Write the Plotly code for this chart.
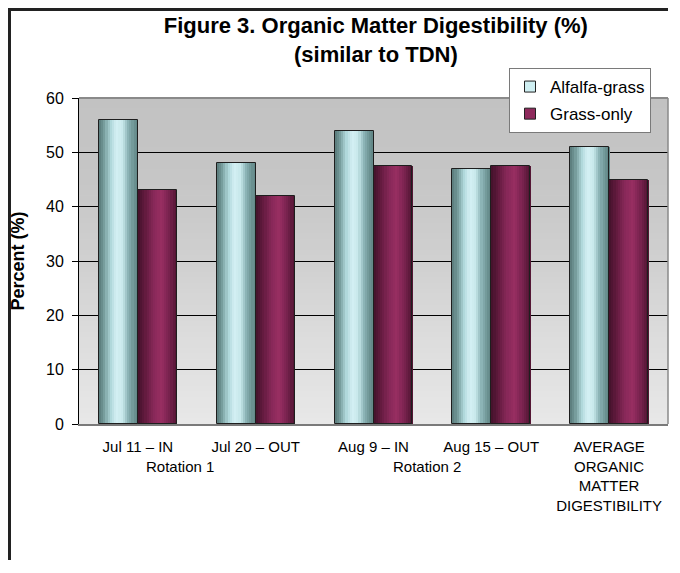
import plotly.graph_objects as go

# ---- data ----
categories = ["Jul 11 – IN", "Jul 20 – OUT", "Aug 9 – IN", "Aug 15 – OUT",
              "AVERAGE<br>ORGANIC<br>MATTER<br>DIGESTIBILITY"]
alfalfa_grass = [56, 48, 54, 47, 51]
grass_only = [43, 42, 47.5, 47.5, 45]
series_names = ["Alfalfa-grass", "Grass-only"]
group_labels = ["Rotation 1", "Rotation 2"]
y_ticks = [0, 10, 20, 30, 40, 50, 60]

# ---- style ----
FONT = "Liberation Sans, Arial, sans-serif"
W, H = 664, 552
ML, MR, MT, MB = 71, 4, 90, 136
PW, PH = W - ML - MR, H - MT - MB
BAR_W = 0.331  # fraction of category width per bar
N_STRIPS = 18

alf_stops = [(0.0, (88, 122, 122)), (0.12, (112, 150, 150)), (0.3, (175, 215, 218)),
             (0.45, (212, 240, 244)), (0.6, (200, 232, 235)), (0.75, (140, 180, 182)),
             (0.9, (108, 146, 146)), (1.0, (96, 132, 132))]
grs_stops = [(0.0, (66, 18, 42)), (0.15, (92, 24, 58)), (0.4, (135, 40, 88)),
             (0.6, (152, 46, 98)), (0.8, (120, 34, 78)), (1.0, (78, 20, 48))]
legend_colors = ["#cfeff2", "#8e2a5c"]


def interp(stops, t):
    for (t0, c0), (t1, c1) in zip(stops[:-1], stops[1:]):
        if t0 <= t <= t1:
            f = (t - t0) / (t1 - t0) if t1 > t0 else 0
            c = [round(a + (b - a) * f) for a, b in zip(c0, c1)]
            return f"rgb({c[0]},{c[1]},{c[2]})"
    c = stops[-1][1]
    return f"rgb({c[0]},{c[1]},{c[2]})"


def px_x(svg_x):
    return (svg_x - ML) / PW


def px_y(svg_y):
    return (H - MB - svg_y) / PH


fig = go.Figure()

for values, stops, base_off in [(alfalfa_grass, alf_stops, -BAR_W),
                                (grass_only, grs_stops, 0.0)]:
    sw = BAR_W / N_STRIPS
    for i in range(N_STRIPS):
        t = (i + 0.5) / N_STRIPS
        fig.add_trace(go.Bar(
            x=categories, y=values, width=sw * 1.2, offset=base_off + i * sw,
            marker=dict(color=interp(stops, t), line=dict(width=0)),
            showlegend=False, hoverinfo="skip"))
    fig.add_trace(go.Bar(
        x=categories, y=values, width=BAR_W, offset=base_off,
        marker=dict(color="rgba(0,0,0,0)", line=dict(color="#1e1e1e", width=1)),
        showlegend=False, hoverinfo="y"))

for name, col in zip(series_names, legend_colors):
    fig.add_trace(go.Scatter(
        x=[None], y=[None], mode="markers", name=name, legendgroup=name,
        marker=dict(symbol="square", size=11, color=col,
                    line=dict(color="#222222", width=1))))

# background gradient bands inside plot area
bg_stops = [(0.0, (232, 232, 232)), (0.25, (221, 221, 221)), (0.5, (208, 208, 208)),
            (0.75, (198, 198, 198)), (1.0, (194, 194, 194))]
shapes = []
NB = 60
for k in range(NB):
    y0 = k / NB
    y1 = (k + 1) / NB
    shapes.append(dict(type="rect", xref="x domain", yref="y domain",
                       x0=0, x1=1, y0=y0, y1=y1 + 0.002, layer="below",
                       line=dict(width=0), fillcolor=interp(bg_stops, (k + 0.5) / NB)))
# plot frame top/right in gray
shapes.append(dict(type="line", xref="x domain", yref="y domain", x0=0, x1=1, y0=1, y1=1,
                   line=dict(color="#8a8a8a", width=2), layer="above"))
shapes.append(dict(type="line", xref="x domain", yref="y domain", x0=1, x1=1, y0=0, y1=1,
                   line=dict(color="#8a8a8a", width=1.5), layer="above"))
# outer chart frame: left and top edges as filled strips (no stroke)
shapes.append(dict(type="rect", xref="paper", yref="paper",
                   x0=px_x(0), x1=px_x(3), y0=px_y(H), y1=px_y(0),
                   line=dict(width=0), fillcolor="#222222", layer="above"))
shapes.append(dict(type="rect", xref="paper", yref="paper",
                   x0=px_x(0), x1=px_x(W - 4), y0=px_y(3), y1=px_y(0),
                   line=dict(width=0), fillcolor="#222222", layer="above"))

annotations = []
for txt, px in zip(group_labels, [0.172, 0.591]):
    annotations.append(dict(text=txt, xref="paper", yref="paper", x=px, y=px_y(H - MB + 42),
                            xanchor="center", yanchor="middle", showarrow=False,
                            font=dict(family=FONT, size=15, color="#000000")))

fig.update_layout(
    width=W, height=H,
    margin=dict(l=ML, r=MR, t=MT, b=MB),
    paper_bgcolor="white", plot_bgcolor="#d8d8d8",
    barmode="overlay", bargap=0,
    title=dict(text="<b>Figure 3. Organic Matter Digestibility (%)<br>(similar to TDN)</b>",
               x=0.504, xref="paper", xanchor="center",
               y=1 - 25 / H, yref="container", yanchor="top",
               font=dict(family=FONT, size=22, color="#000000")),
    legend=dict(x=px_x(501), y=px_y(60), xanchor="left", yanchor="top",
                bgcolor="white", bordercolor="#7a7a7a", borderwidth=1,
                font=dict(family=FONT, size=17, color="#000000"),
                itemwidth=30, tracegroupgap=2, traceorder="grouped"),
    shapes=shapes, annotations=annotations,
    xaxis=dict(type="category", categoryorder="array", categoryarray=categories,
               showgrid=False, showline=True, linecolor="#7a7a7a", linewidth=2,
               ticks="", tickfont=dict(family=FONT, size=15, color="#000000"),
               ticklabelstandoff=8, automargin=False, fixedrange=True),
    yaxis=dict(range=[0, 60], tickvals=y_ticks, showgrid=True, gridcolor="#000000",
               gridwidth=1, zeroline=False, showline=True, linecolor="#000000", linewidth=1,
               ticks="outside", ticklen=6, tickcolor="#000000", ticklabelstandoff=5,
               tickfont=dict(family=FONT, size=16, color="#000000"),
               title=dict(text="<b>Percent (%)</b>", standoff=18,
                          font=dict(family=FONT, size=18, color="#000000")),
               automargin=False, fixedrange=True),
    showlegend=True,
)

fig.write_html("out.html")
